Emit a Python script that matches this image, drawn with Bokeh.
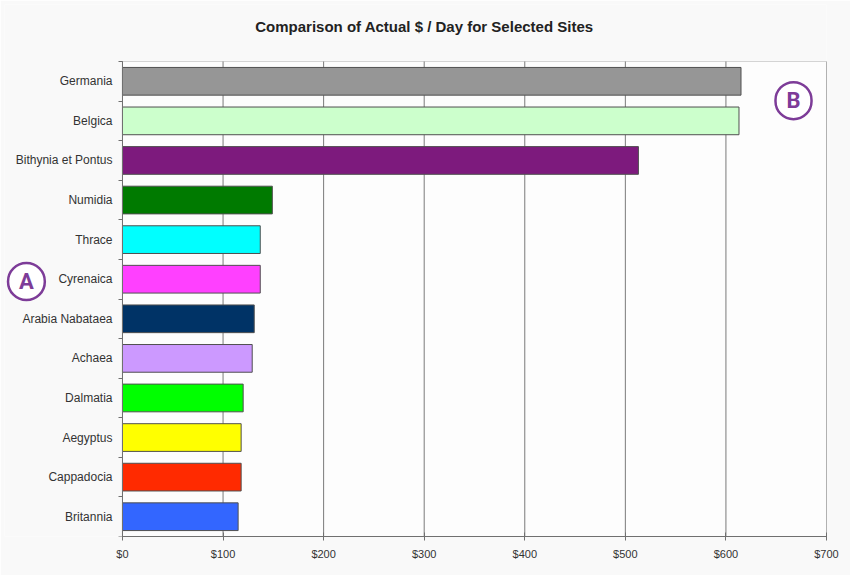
from bokeh.plotting import figure
from bokeh.models import (FixedTicker, NumeralTickFormatter, Range1d, Label, LinearAxis,
                          BoxAnnotation)
from bokeh.core.properties import value
from bokeh.embed import file_html
from bokeh.resources import INLINE

# Data (top to bottom as in the chart)
sites = ["Germania", "Belgica", "Bithynia et Pontus", "Numidia", "Thrace", "Cyrenaica",
         "Arabia Nabataea", "Achaea", "Dalmatia", "Aegyptus", "Cappadocia", "Britannia"]
dollars_per_day = [615, 613, 513, 149, 137, 137, 131, 129, 120, 118, 118, 115]
bar_colors = ["#969696", "#CCFFCC", "#7D1A7D", "#007A00", "#00FFFF", "#FF40FF",
              "#003366", "#CC99FF", "#00FF00", "#FFFF00", "#FF2A00", "#3366FF"]
x_ticks = [0, 100, 200, 300, 400, 500, 600, 700]
title_text = "Comparison of Actual $  / Day for Selected Sites"

n = len(sites)
centers = [n - i - 0.5 for i in range(n)]
boundaries = list(range(n + 1))
x_max = x_ticks[-1]

# the frame is widened so that the callout "A" and the title fit inside it;
# the value area itself is 0..700 x 0..12
p = figure(width=850, height=575, output_backend="svg", toolbar_location=None,
           x_range=Range1d(-117.3, x_max), y_range=Range1d(0, 13.44),
           y_axis_location=None,
           min_border_left=4, min_border_right=24, min_border_top=4, min_border_bottom=39,
           background_fill_color="#F9F9F9", border_fill_color="#F9F9F9")
p.outline_line_color = None
p.grid.visible = False

# plot area background and frame
p.add_layout(BoxAnnotation(left=0, right=x_max, bottom=0, top=n, fill_color="#FDFDFD",
                           fill_alpha=1, line_color="#7A7A7A", line_width=1,
                           level="underlay"))

# vertical grid lines
p.segment(x0=x_ticks, y0=0, x1=x_ticks, y1=n, line_color="#7A7A7A", line_width=1)

p.hbar(y=centers, left=0, right=dollars_per_day, height=0.7,
       fill_color=bar_colors, line_color="#505050", line_width=1)

# category names
p.text(x=0, y=centers, text=sites, x_offset=-10, text_align="right",
       text_baseline="middle", text_font=value("Liberation Sans"),
       text_font_size="12px", text_color="#333333")

# x axis
p.xaxis.bounds = (0, x_max)
p.xaxis.ticker = FixedTicker(ticks=x_ticks)
p.xaxis.formatter = NumeralTickFormatter(format="$0")
p.xaxis.major_tick_in = 4
p.xaxis.major_tick_out = 4
p.xaxis.minor_tick_line_color = None
p.xaxis.axis_line_color = "#707070"
p.xaxis.major_tick_line_color = "#707070"
p.xaxis.major_label_text_font = "Liberation Sans"
p.xaxis.major_label_text_font_size = "11px"
p.xaxis.major_label_text_color = "#333333"
p.xaxis.major_label_standoff = 7

# y axis line at x = 0, ticks at category boundaries (no labels of its own)
yax = LinearAxis(fixed_location=0, bounds=(0, n),
                 ticker=FixedTicker(ticks=[], minor_ticks=boundaries),
                 major_label_standoff=0,
                 major_tick_out=0, major_tick_in=0, minor_tick_out=4, minor_tick_in=0,
                 axis_line_color="#707070", minor_tick_line_color="#707070")
p.add_layout(yax, "left")

# title
p.add_layout(Label(x=302.3, y=12.88, text=title_text, text_align="center",
                   text_baseline="middle", text_font="Liberation Sans",
                   text_font_style="bold", text_font_size="15px", text_color="#222222"))

purple = "#7D3C98"
for lx, ly, letter in [(-95.5, 6.44, "A"), (667.2, 11.01, "B")]:
    p.add_layout(Label(x=lx, y=ly, text=letter, text_align="center", text_baseline="middle",
                       text_font="Roboto", text_font_style="bold", text_font_size="22px",
                       text_color=purple, padding=(11, 6), border_radius=19,
                       border_line_color=purple, border_line_width=2.5,
                       background_fill_color="#FFFFFF"))

open("out.html", "w").write(file_html(p, INLINE))
